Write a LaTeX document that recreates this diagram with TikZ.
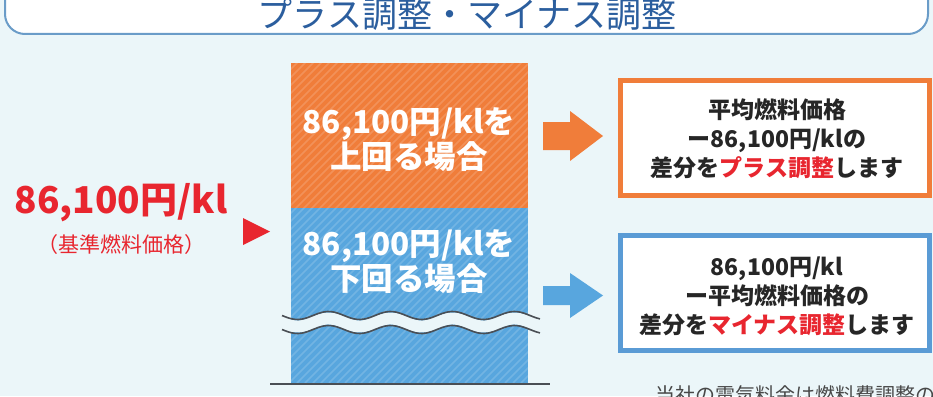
\documentclass[tikz,border=0pt]{standalone}
\usepackage{fontspec}
\setmainfont{Noto Sans CJK JP}
\definecolor{bgc}{HTML}{EBF6F9}
\definecolor{orangec}{HTML}{F07D3A}
\definecolor{bluec}{HTML}{58A6DE}
\definecolor{boxblue}{HTML}{5A9BD5}
\definecolor{redc}{HTML}{E8262F}
\definecolor{titleblue}{HTML}{2B5E9E}
\definecolor{titleline}{HTML}{6A9CC8}
\definecolor{darkline}{HTML}{4A4F55}
\definecolor{textc}{HTML}{262626}
\tikzset{
  coltext/.style={text=white, align=center, font=\bfseries\fontsize{31.5}{34}\selectfont},
  boxtext/.style={text=textc, align=center, font=\bfseries\fontsize{23}{29}\selectfont},
  resbox/.style={fill=white, line width=5pt, minimum width=309pt, minimum height=115pt},
  wave/.style={darkline, line width=1.6pt},
}
\begin{document}
\begin{tikzpicture}[x=1pt,y=-1pt, every node/.style={inner sep=0pt, outer sep=0pt}]
\useasboundingbox (0,0) rectangle (933,396);
\fill[bgc] (0,0) rectangle (933,396);
% title bar
\draw[titleline, line width=2pt, fill=white, rounded corners=20pt] (5,-40) rectangle (928,34);
\node[text=titleblue, font=\fontsize{35}{40}\selectfont] (title) at (467,14) {プラス調整・マイナス調整};
% column
\fill[orangec] (291,63) rectangle (528,208);
\fill[bluec] (291,208) rectangle (528,383);
\begin{scope}
  \clip (291,63) rectangle (528,383);
  \foreach \i in {0,...,75} {
    \draw[white, opacity=0.16, line width=1.6pt] ({291-330+\i*8},383) -- ++(330,-330);
  }
\end{scope}
% wave break
\draw[bgc, line width=12pt] plot[domain=282:540, samples=80] (\x, {322.5+4*sin((\x-282)/62*360)});
\draw[wave] plot[domain=282:540, samples=80] (\x, {315.5+4*sin((\x-282)/62*360)});
\draw[wave] plot[domain=282:540, samples=80] (\x, {329.5+4*sin((\x-282)/62*360)});
\draw[darkline, line width=1.5pt] (270,384) -- (550,384);
% column texts
\node[coltext] (above) at (409,140) {86,100円/klを\\上回る場合};
\node[coltext] (below) at (409,262) {86,100円/klを\\下回る場合};
% base price
\node[text=redc, font=\bfseries\fontsize{37}{40}\selectfont] (base) at (121,203) {86,100円/kl};
\node[text=redc, font=\fontsize{21}{24}\selectfont] (basesub) at (121,245) {（基準燃料価格）};
\fill[redc] (243,218) -- (243,245) -- (270,231.5) -- cycle;
% arrows
\fill[orangec] (543,122) -- (570,122) -- (570,111) -- (603,136) -- (570,161) -- (570,150) -- (543,150) -- cycle;
\fill[bluec] (543,286) -- (570,286) -- (570,273) -- (603,295.5) -- (570,318) -- (570,305) -- (543,305) -- cycle;
% result boxes
\node[resbox, draw=orangec] (obox) at (775,138) {};
\node[boxtext] (otext) at (777,139) {平均燃料価格\\ー86,100円/klの\\差分を{\color{redc}プラス調整}します};
\node[resbox, draw=boxblue] (bbox) at (775,293) {};
\node[boxtext] (btext) at (777,296) {86,100円/kl\\ー平均燃料価格の\\差分を{\color{redc}マイナス調整}します};
% note
\node[anchor=west, text=textc!85, font=\fontsize{20}{22}\selectfont] (note) at (655,395) {当社の電気料金は燃料費調整の};
\end{tikzpicture}
\end{document}
